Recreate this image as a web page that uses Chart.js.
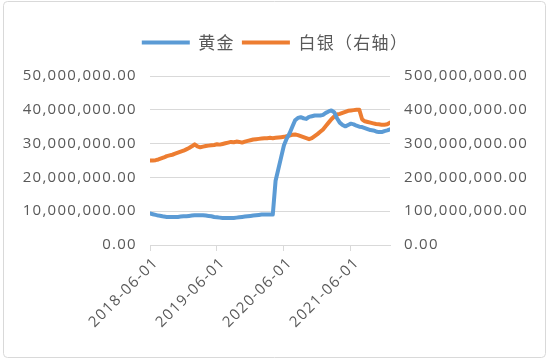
<!DOCTYPE html>
<html>
<head>
<meta charset="utf-8">
<script src="https://cdn.jsdelivr.net/npm/chart.js@4.4.1/dist/chart.umd.min.js"></script>
<style>
html,body{margin:0;padding:0;background:#fff;}
#wrap{position:relative;width:550px;height:362px;}
</style>
</head>
<body>
<div id="wrap"><canvas id="c" width="550" height="362"></canvas></div>
<script>
const dates = [
"2018-06-01","2018-06-16","2018-07-01","2018-07-16","2018-08-01","2018-08-16","2018-09-01","2018-09-16",
"2018-10-01","2018-10-16","2018-11-01","2018-11-16","2018-12-01","2018-12-16","2019-01-01","2019-01-16",
"2019-02-01","2019-02-16","2019-03-01","2019-03-16","2019-04-01","2019-04-16","2019-05-01","2019-05-16",
"2019-06-01","2019-06-16","2019-07-01","2019-07-16","2019-08-01","2019-08-16","2019-09-01","2019-09-16",
"2019-10-01","2019-10-16","2019-11-01","2019-11-16","2019-12-01","2019-12-16","2020-01-01","2020-01-16",
"2020-02-01","2020-02-16","2020-03-01","2020-03-16","2020-04-01","2020-04-16","2020-05-01","2020-05-16",
"2020-06-01","2020-06-16","2020-07-01","2020-07-16","2020-08-01","2020-08-16","2020-09-01","2020-09-16",
"2020-10-01","2020-10-16","2020-11-01","2020-11-16","2020-12-01","2020-12-16","2021-01-01","2021-01-16",
"2021-02-01","2021-02-16","2021-03-01","2021-03-16","2021-04-01","2021-04-16","2021-05-01","2021-05-16",
"2021-06-01","2021-06-16","2021-07-01","2021-07-16","2021-08-01","2021-08-16","2021-09-01","2021-09-16",
"2021-10-01","2021-10-16","2021-11-01","2021-11-16","2021-12-01","2021-12-16","2022-01-01"
];
const gold = [
9.3e6,9.1e6,8.9e6,8.7e6,8.6e6,8.4e6,8.3e6,8.3e6,8.3e6,8.3e6,8.3e6,8.4e6,8.5e6,8.5e6,8.6e6,8.7e6,
8.8e6,8.8e6,8.8e6,8.8e6,8.7e6,8.6e6,8.5e6,8.3e6,8.2e6,8.1e6,8.0e6,8.0e6,8.0e6,8.0e6,8.0e6,8.1e6,
8.2e6,8.3e6,8.4e6,8.5e6,8.6e6,8.7e6,8.8e6,8.9e6,9.0e6,9.0e6,9.0e6,9.0e6,9.0e6,
19.0e6,22.5e6,26.0e6,29.5e6,31.5e6,33.0e6,35.0e6,36.9e6,37.6e6,37.8e6,37.5e6,37.3e6,37.9e6,38.1e6,38.3e6,
38.3e6,38.3e6,38.5e6,39.1e6,39.5e6,39.8e6,39.3e6,37.5e6,36.2e6,35.5e6,35.1e6,35.5e6,35.9e6,35.7e6,35.3e6,
35.0e6,34.9e6,34.6e6,34.3e6,34.0e6,33.9e6,33.6e6,33.4e6,33.4e6,33.7e6,33.9e6,34.2e6
];
const silver = [
250e6,250e6,251e6,253e6,256e6,259e6,263e6,265e6,267e6,270e6,273e6,276e6,279e6,283e6,287e6,292e6,
298e6,292e6,289e6,291e6,293e6,294e6,295e6,296e6,298e6,297e6,299e6,301e6,303e6,305e6,304e6,306e6,
305e6,303e6,306e6,308e6,310e6,312e6,313e6,314e6,315e6,316e6,316e6,317e6,316e6,
317e6,318e6,319e6,320e6,322e6,324e6,326e6,327e6,325e6,322e6,319e6,316e6,313e6,316e6,322e6,
328e6,335e6,342e6,352e6,362e6,372e6,380e6,386e6,388e6,391e6,394e6,397e6,398e6,399e6,400e6,
400e6,372e6,366e6,364e6,362e6,360e6,358e6,357e6,356e6,356e6,357e6,362e6
];
const seriesNames = ["黄金","白银（右轴）"];
const leftTicks = [0,10e6,20e6,30e6,40e6,50e6];
const rightTicks = [0,100e6,200e6,300e6,400e6,500e6];

function monthIndex(d){
  const [y,m,day] = d.split("-").map(Number);
  return (y-2018)*12 + (m-6) + (day-1)/30;
}
function fmt(v){
  return v.toLocaleString("en-US",{minimumFractionDigits:2,maximumFractionDigits:2});
}
const goldPts = dates.map((d,i)=>({x:monthIndex(d), y:gold[i]}));
const silverPts = dates.map((d,i)=>({x:monthIndex(d), y:silver[i]}));
const xMax = monthIndex(dates[dates.length-1]);

const tickFont = {family:"'Open Sans', sans-serif", size:15};
const grey = "#595959";
const gridC = "#d9d9d9";

const framePlugin = {
  id:"frame",
  beforeInit(chart){ chart.ctx.letterSpacing = "1.3px"; },
  beforeUpdate(chart){
    chart.ctx.letterSpacing = "1.3px";
    const lg = chart.legend;
    if (lg && !lg._patched){
      const orig = lg.fit.bind(lg);
      lg.fit = function(){ orig(); this.height += 15; };
      lg._patched = true;
    }
  },
  beforeDraw(chart){ chart.ctx.letterSpacing = "1.3px"; },
  afterDraw(chart){
    const ctx = chart.ctx;
    ctx.save();
    ctx.strokeStyle = gridC;
    ctx.lineWidth = 1;
    ctx.beginPath();
    if (ctx.roundRect) ctx.roundRect(3.5,1.5,542,356,4); else ctx.rect(3.5,1.5,542,356);
    ctx.stroke();
    ctx.restore();
  }
};

new Chart(document.getElementById("c"), {
  type:"line",
  data:{
    datasets:[
      {label:seriesNames[0], data:goldPts, yAxisID:"y", borderColor:"#5B9BD5", backgroundColor:"#5B9BD5",
       borderWidth:4, pointRadius:0, tension:0, borderJoinStyle:"round", borderCapStyle:"round"},
      {label:seriesNames[1], data:silverPts, yAxisID:"y1", borderColor:"#ED7D31", backgroundColor:"#ED7D31",
       borderWidth:4, pointRadius:0, tension:0, borderJoinStyle:"round", borderCapStyle:"round"}
    ]
  },
  options:{
    responsive:false,
    animation:false,
    layout:{padding:{top:27,left:0,right:0,bottom:0}},
    plugins:{
      legend:{
        position:"top",
        labels:{
          boxWidth:48, boxHeight:4, padding:7, color:grey,
          font:{family:"'Noto Sans CJK SC', sans-serif", size:17},
          generateLabels(chart){
            const items = Chart.defaults.plugins.legend.labels.generateLabels(chart);
            items.forEach(it=>{ it.lineWidth = 0; });
            return items;
          }
        }
      },
      tooltip:{enabled:false}
    },
    scales:{
      x:{
        type:"linear", min:0, max:xMax,
        afterFit(s){ s.height = 117; },
        grid:{drawOnChartArea:false, drawTicks:true, tickLength:6, color:gridC},
        border:{display:true, color:gridC},
        ticks:{
          stepSize:12, includeBounds:false, autoSkip:false, maxRotation:45, minRotation:45,
          color:grey, font:tickFont, padding:3, labelOffset:6,
          callback(v){ return (2018 + v/12) + "-06-01"; }
        }
      },
      y:{
        position:"left", min:0, max:50e6,
        afterFit(s){ s.width = 150; },
        afterBuildTicks(s){ s.ticks = leftTicks.map(v=>({value:v})); },
        grid:{color:gridC, drawTicks:false},
        border:{display:false},
        ticks:{color:grey, font:tickFont, padding:13, callback:v=>fmt(v)}
      },
      y1:{
        position:"right", min:0, max:500e6,
        afterFit(s){ s.width = 160; },
        afterBuildTicks(s){ s.ticks = rightTicks.map(v=>({value:v})); },
        grid:{drawOnChartArea:false, drawTicks:false},
        border:{display:false},
        ticks:{color:grey, font:tickFont, padding:14, callback:v=>fmt(v)}
      }
    }
  },
  plugins:[framePlugin]
});
</script>
</body>
</html>
